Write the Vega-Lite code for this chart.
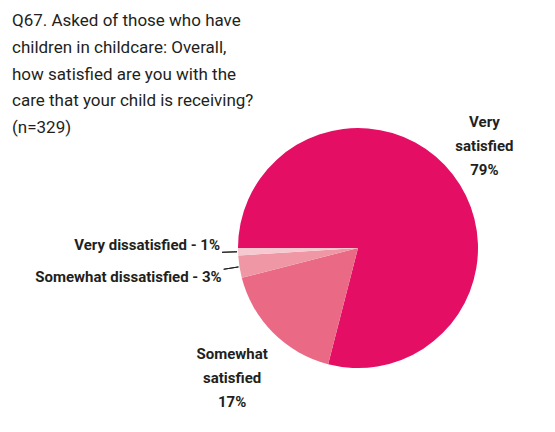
{
  "$schema": "https://vega.github.io/schema/vega-lite/v6.json",
  "width": 394,
  "height": 368,
  "autosize": {"type": "none"},
  "padding": {"left": 161, "top": 64, "right": 0, "bottom": 0},
  "background": "white",
  "config": {"view": {"stroke": null}},
  "title": {
    "text": ["Q67. Asked of those who have", "children in childcare: Overall,", "how satisfied are you with the", "care that your child is receiving?", "(n=329)"],
    "anchor": "start",
    "frame": "group",
    "orient": "top",
    "font": "Roboto",
    "fontSize": 17,
    "fontWeight": "normal",
    "color": "#231f20",
    "lineHeight": 26.75,
    "baseline": "top",
    "dx": -149,
    "dy": 73,
    "offset": 0
  },
  "data": {
    "values": [
      {"cat": "Very satisfied", "pct": 79, "label": "Very\nsatisfied\n79%"},
      {"cat": "Somewhat satisfied", "pct": 17, "label": "Somewhat\nsatisfied\n17%"},
      {"cat": "Somewhat dissatisfied", "pct": 3, "label": "Somewhat dissatisfied - 3%"},
      {"cat": "Very dissatisfied", "pct": 1, "label": "Very dissatisfied - 1%"}
    ]
  },
  "encoding": {
    "theta": {"field": "pct", "type": "quantitative", "stack": true, "scale": {"range": [-1.5707963, 4.712389]}},
    "order": {"field": "pct", "type": "quantitative", "sort": "descending"}
  },
  "layer": [
    {
      "mark": {"type": "arc", "outerRadius": 120},
      "encoding": {
        "color": {
          "field": "cat",
          "type": "nominal",
          "legend": null,
          "scale": {
            "domain": ["Very satisfied", "Somewhat satisfied", "Somewhat dissatisfied", "Very dissatisfied"],
            "range": ["#E40E65", "#EA6984", "#EF97A4", "#F6C9D0"]
          }
        }
      }
    },
    {
      "mark": {"type": "arc", "radius": 136, "radius2": 121, "padAngle": 0.5, "fill": "transparent", "strokeWidth": 1},
      "encoding": {
        "stroke": {"condition": {"test": "datum.pct < 5", "value": "#231f20"}, "value": "transparent"}
      }
    },
    {
      "mark": {"type": "text", "radius": 160, "dy": -28, "align": "center", "baseline": "middle", "lineBreak": "\n", "lineHeight": 24, "font": "Roboto", "fontWeight": "bold", "fontSize": 15, "color": "#231f20"},
      "encoding": {
        "text": {"condition": {"test": "datum.cat === 'Very satisfied'", "field": "label"}, "value": ""}
      }
    },
    {
      "mark": {"type": "text", "radius": 178, "dy": -20, "align": "center", "baseline": "middle", "lineBreak": "\n", "lineHeight": 24, "font": "Roboto", "fontWeight": "bold", "fontSize": 15, "color": "#231f20"},
      "encoding": {
        "text": {"condition": {"test": "datum.cat === 'Somewhat satisfied'", "field": "label"}, "value": ""}
      }
    },
    {
      "mark": {"type": "text", "radius": 138, "align": "right", "baseline": "middle", "dy": 7, "font": "Roboto", "fontWeight": "bold", "fontSize": 15, "color": "#231f20"},
      "encoding": {
        "text": {"condition": {"test": "datum.cat === 'Somewhat dissatisfied'", "field": "label"}, "value": ""}
      }
    },
    {
      "mark": {"type": "text", "radius": 138, "align": "right", "baseline": "middle", "dy": -7, "font": "Roboto", "fontWeight": "bold", "fontSize": 15, "color": "#231f20"},
      "encoding": {
        "text": {"condition": {"test": "datum.cat === 'Very dissatisfied'", "field": "label"}, "value": ""}
      }
    }
  ]
}
